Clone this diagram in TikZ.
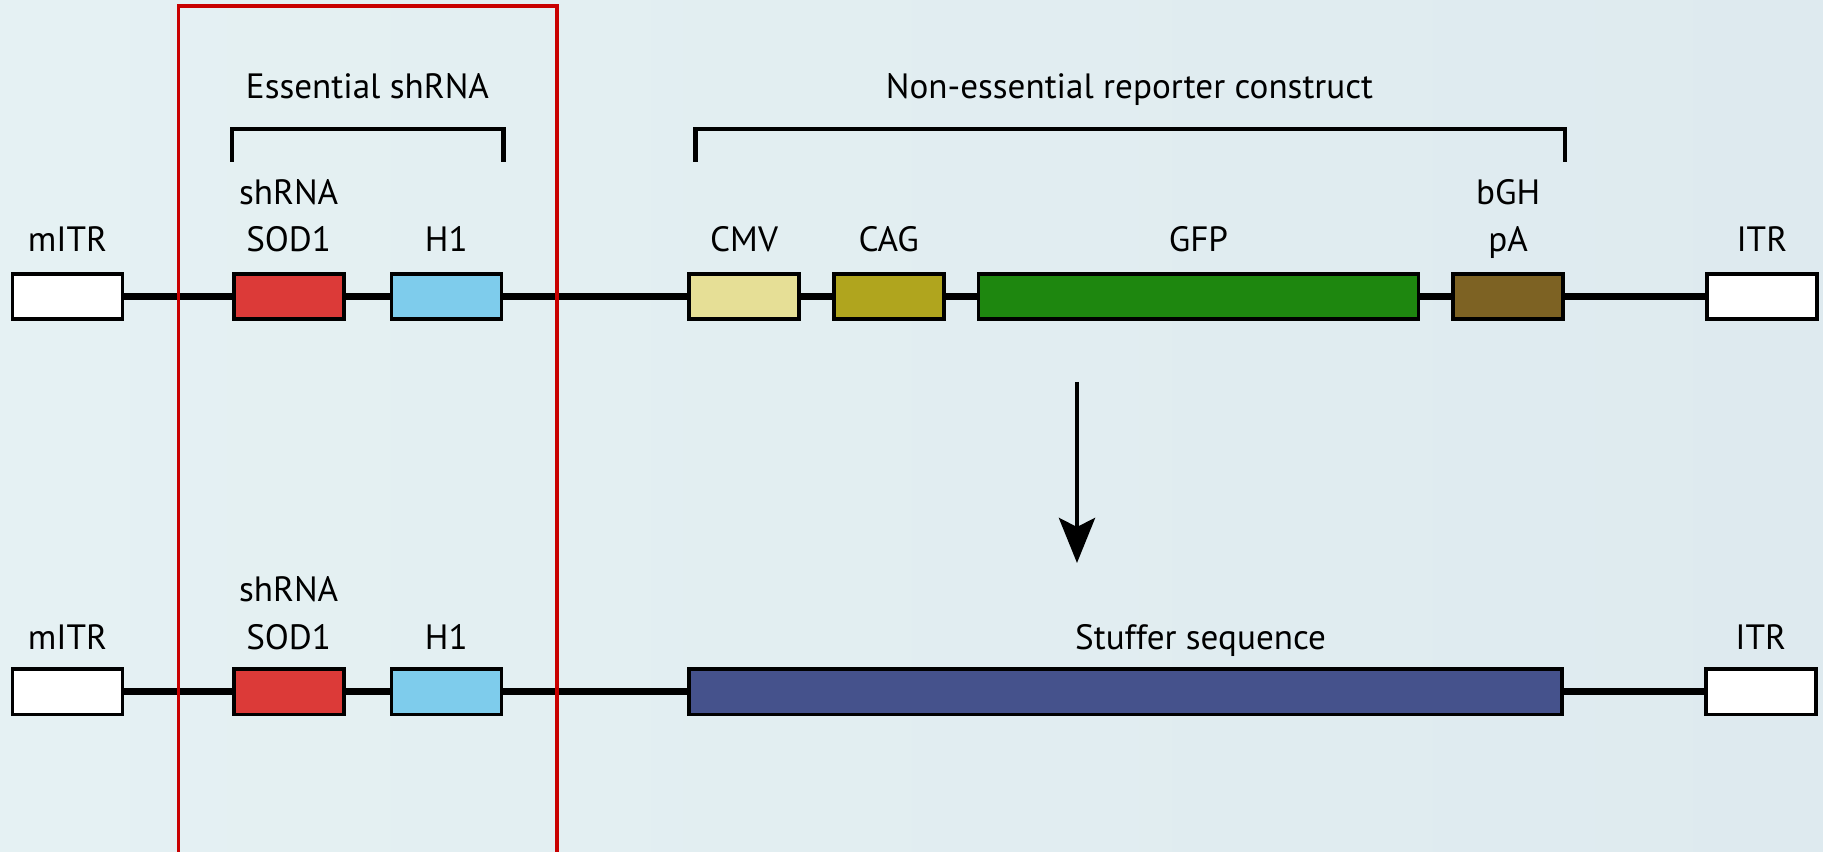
\documentclass[tikz,border=0pt]{standalone}
\usepackage{fontspec}
\setmainfont{PT Sans}
\usepackage{tikz}
\usepackage{xcolor}
\usetikzlibrary{positioning, arrows.meta}

\definecolor{BgLeft}{RGB}{229,241,243}
\definecolor{BgRight}{RGB}{222,234,239}
\definecolor{SodRed}{RGB}{220,58,56}
\definecolor{HOneBlue}{RGB}{126,204,236}
\definecolor{CmvYellow}{RGB}{230,223,150}
\definecolor{CagOlive}{RGB}{176,165,30}
\definecolor{GfpGreen}{RGB}{30,135,15}
\definecolor{PaBrown}{RGB}{125,98,35}
\definecolor{StufferBlue}{RGB}{69,82,140}
\definecolor{FrameRed}{RGB}{200,0,0}

\begin{document}
\begin{tikzpicture}[every node/.style={font=\fontsize{10}{13.6}\selectfont},
  elem/.style={rectangle, draw=black, line width=1.05pt, minimum width=1.10cm, minimum height=0.455cm, inner sep=0pt},
  lbl/.style={anchor=base, align=center, inner sep=0pt},
  backbone/.style={line width=2pt},
  bracket/.style={line width=1.3pt},
  arrow/.style={-{Stealth[length=0.45cm, width=0.36cm, inset=0.09cm]}, line width=1.4pt}
]
    \path[use as bounding box, left color=BgLeft, right color=BgRight] (0,0) rectangle (18.23,-8.52);

    % vector with reporter
    \node[elem, fill=white] (mitr) at (0.675,-2.965) {};
    \node[elem, fill=SodRed, right=1.075cm of mitr] (sod) {};
    \node[elem, fill=HOneBlue, right=0.44cm of sod] (hone) {};
    \node[elem, fill=CmvYellow, right=1.84cm of hone] (cmv) {};
    \node[elem, fill=CagOlive, right=0.31cm of cmv] (cag) {};
    \node[elem, fill=GfpGreen, minimum width=4.40cm, right=0.31cm of cag] (gfp) {};
    \node[elem, fill=PaBrown, right=0.31cm of gfp] (bgh) {};
    \node[elem, fill=white, right=1.40cm of bgh] (itr) {};

    \draw[backbone] (mitr) -- (sod) (sod) -- (hone) (hone) -- (cmv) (cmv) -- (cag)
        (cag) -- (gfp) (gfp) -- (bgh) (bgh) -- (itr);

    \node[above=0.20cm of mitr, lbl] {mITR};
    \node[above=0.20cm of sod, lbl] {shRNA\\SOD1};
    \node[above=0.20cm of hone, lbl] {H1};
    \node[above=0.20cm of cmv, lbl] {CMV};
    \node[above=0.20cm of cag, lbl] {CAG};
    \node[above=0.20cm of gfp, lbl] {GFP};
    \node[above=0.20cm of bgh, lbl] {bGH\\pA};
    \node[above=0.20cm of itr, lbl] {ITR};

    % brackets over the two parts
    \draw[bracket] ([yshift=1.10cm]sod.north west) |- ([yshift=1.43cm]hone.north east) -- ++(0,-0.33);
    \draw[bracket] ([xshift=0.08cm, yshift=1.10cm]cmv.north west) |- ([yshift=1.43cm]bgh.north east) -- ++(0,-0.33);
    \node[lbl] (esstitle) at (3.675,-0.99) {Essential shRNA};
    \node[lbl] (reptitle) at (11.295,-0.99) {Non-essential reporter construct};

    % vector with stuffer
    \node[elem, fill=white, below=3.46cm of mitr] (mitrB) {};
    \node[elem, fill=SodRed, right=1.075cm of mitrB] (sodB) {};
    \node[elem, fill=HOneBlue, right=0.44cm of sodB] (honeB) {};
    \node[elem, fill=StufferBlue, minimum width=8.73cm, right=1.84cm of honeB] (stuffer) {};
    \node[elem, fill=white, right=1.40cm of stuffer] (itrB) {};

    \draw[backbone] (mitrB) -- (sodB) (sodB) -- (honeB) (honeB) -- (stuffer) (stuffer) -- (itrB);

    \node[above=0.18cm of mitrB, lbl] {mITR};
    \node[above=0.18cm of sodB, lbl] {shRNA\\SOD1};
    \node[above=0.18cm of honeB, lbl] {H1};
    \node[above=0.18cm of stuffer, xshift=0.75cm, lbl] {Stuffer sequence};
    \node[above=0.18cm of itrB, lbl] {ITR};

    \coordinate (arrfrom) at (10.77,-3.82);
    \coordinate (arrto) at (10.77,-5.63);
    \draw[arrow] (arrfrom) -- (arrto);

    % frame round the shRNA part
    \draw[FrameRed, line width=0.95pt] (1.785,-0.06) rectangle (5.57,-8.8);
\end{tikzpicture}
\end{document}
